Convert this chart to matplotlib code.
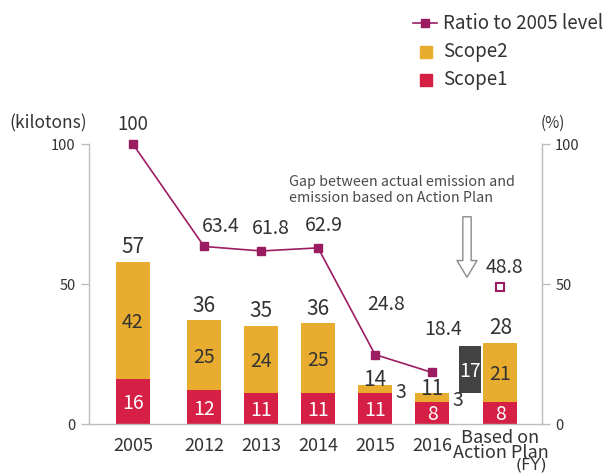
import matplotlib
matplotlib.use("Agg")
import matplotlib.pyplot as plt
from matplotlib.lines import Line2D
from matplotlib.patches import Rectangle, FancyArrowPatch

plt.rcParams['font.family'] = ['Noto Sans CJK JP', 'DejaVu Sans']

# ---- data ----
categories = ["2005", "2012", "2013", "2014", "2015", "2016", "Based on\nAction Plan"]
scope1 = [16, 12, 11, 11, 11, 8, 8]
scope2 = [42, 25, 24, 25, 3, 3, 21]
totals = [57, 36, 35, 36, 14, 11, 28]
ratio = [100, 63.4, 61.8, 62.9, 24.8, 18.4]
ratio_plan = 48.8
gap_value = 17
gap_base = 11

# ---- layout ----
pos = [0, 1.25, 2.25, 3.25, 4.25, 5.25, 6.45]
gap_pos = 5.91
bw = 0.6
SH = -0.7  # small vertical correction for font metrics

C_S1 = "#d51f45"
C_S2 = "#e8ad2e"
C_LINE = "#9c1c62"
C_GAP = "#424242"
C_TXT = "#333333"
C_AX = "#bdbdbd"

W, H = 611, 474
fig = plt.figure(figsize=(W / 100, H / 100), dpi=100)
ax = fig.add_axes([89 / W, 1 - 424 / H, (542 - 89) / W, (424 - 144) / H])
ax.set_xlim(-0.77, 7.18)
ax.set_ylim(0, 100)

ax.bar(pos, scope1, width=bw, color=C_S1, zorder=2)
ax.bar(pos, scope2, width=bw, bottom=scope1, color=C_S2, zorder=2)
ax.bar([gap_pos], [gap_value], width=0.39, bottom=[gap_base], color=C_GAP, zorder=2)

for i, x in enumerate(pos):
    ax.text(x, scope1[i] / 2 + SH, str(scope1[i]), ha="center", va="center",
            color="white", fontsize=14, zorder=4)
    if scope2[i] >= 10:
        ax.text(x, scope1[i] + scope2[i] / 2 + SH, str(scope2[i]), ha="center", va="center",
                color=C_TXT, fontsize=14, zorder=4)
    else:
        ax.text(x + 0.36, scope1[i] + scope2[i] / 2 - 1.2, str(scope2[i]), ha="left",
                va="center", color=C_TXT, fontsize=14, zorder=4)
    top = scope1[i] + scope2[i]
    off = 5.2 if scope2[i] >= 10 else 1.6
    ax.text(x, top + off, str(totals[i]), ha="center", va="center",
            color=C_TXT, fontsize=15, zorder=4, clip_on=False)

ax.text(gap_pos, gap_base + gap_value / 2 + SH, str(gap_value), ha="center", va="center",
        color="white", fontsize=14, zorder=4)

# spines & ticks
ax.spines["top"].set_visible(False)
for s in ["left", "right", "bottom"]:
    ax.spines[s].set_color(C_AX)
    ax.spines[s].set_linewidth(1.0)
ax.set_yticks([0, 50, 100])
ax.tick_params(axis="y", colors=C_AX, labelcolor=C_TXT, labelsize=10.5, length=6, width=1)
ax.set_xticks(pos)
ax.set_xticklabels(categories, fontsize=13, color=C_TXT, linespacing=0.82)
for lab in ax.get_xticklabels():
    lab.set_va("center")
ax.tick_params(axis="x", length=0, pad=15.5)

ax2 = ax.twinx()
ax2.set_ylim(0, 100)
for s in ["top", "left", "bottom"]:
    ax2.spines[s].set_visible(False)
ax2.spines["right"].set_color(C_AX)
ax2.set_yticks([0, 50, 100])
ax2.tick_params(axis="y", colors=C_AX, labelcolor=C_TXT, labelsize=10.5, length=6, width=1)

ax2.plot(pos[:len(ratio)], ratio, color=C_LINE, lw=1.2, marker="s", ms=5.5,
         zorder=5, clip_on=False)
ax2.plot([pos[-1]], [ratio_plan], ls="none", marker="s", ms=6, mfc="white",
         mec=C_LINE, mew=1.5, zorder=5, clip_on=False)

rl_off = [(0, 7.0), (0.3, 7.0), (0.17, 8), (0.1, 8), (0.2, 18), (0.2, 15.5)]
for i, v in enumerate(ratio):
    dx, dy = rl_off[i]
    ax2.text(pos[i] + dx, v + dy, f"{v:g}", ha="center", va="center", color=C_TXT,
             fontsize=14 if i else 13.5, clip_on=False, zorder=6)
ax2.text(pos[-1] + 0.07, ratio_plan + 7, f"{ratio_plan:g}", ha="center", va="center",
         color=C_TXT, fontsize=14, zorder=6)

# overlay for free text (pixel coordinates)
ov = fig.add_axes([0, 0, 1, 1], facecolor="none")
ov.set_xlim(0, W)
ov.set_ylim(H, 0)
ov.axis("off")

ov.text(9, 123, "(kilotons)", ha="left", va="center", fontsize=12.5, color=C_TXT)
ov.text(541, 123, "(%)", ha="left", va="center", fontsize=11, color=C_TXT)
ov.text(547, 465.5, "(FY)", ha="right", va="center", fontsize=11.5, color=C_TXT,
        family="DejaVu Sans")

ov.text(289, 190, "Gap between actual emission and\nemission based on Action Plan",
        ha="left", va="center", fontsize=10.3, color="#4a4a4a", linespacing=1.25)
arr = FancyArrowPatch((467, 214), (467, 280),
                      arrowstyle="simple,head_width=1.2,head_length=1.0,tail_width=0.5",
                      mutation_scale=12, fc="white", ec="#8a8a8a", lw=1.0)
ov.add_patch(arr)

# legend
ov.add_line(Line2D([413, 437], [23, 23], color=C_LINE, lw=1.2))
ov.add_line(Line2D([425], [23], color=C_LINE, marker="s", ms=5.5, ls="none"))
ov.text(443, 23, "Ratio to 2005 level", ha="left", va="center", fontsize=13.5, color=C_TXT)
ov.add_patch(Rectangle((420, 46), 12, 12, color=C_S2))
ov.text(443, 51, "Scope2", ha="left", va="center", fontsize=13.5, color=C_TXT)
ov.add_patch(Rectangle((420, 74), 12, 12, color=C_S1))
ov.text(443, 79, "Scope1", ha="left", va="center", fontsize=13.5, color=C_TXT)

fig.savefig("out.png", dpi=100)
